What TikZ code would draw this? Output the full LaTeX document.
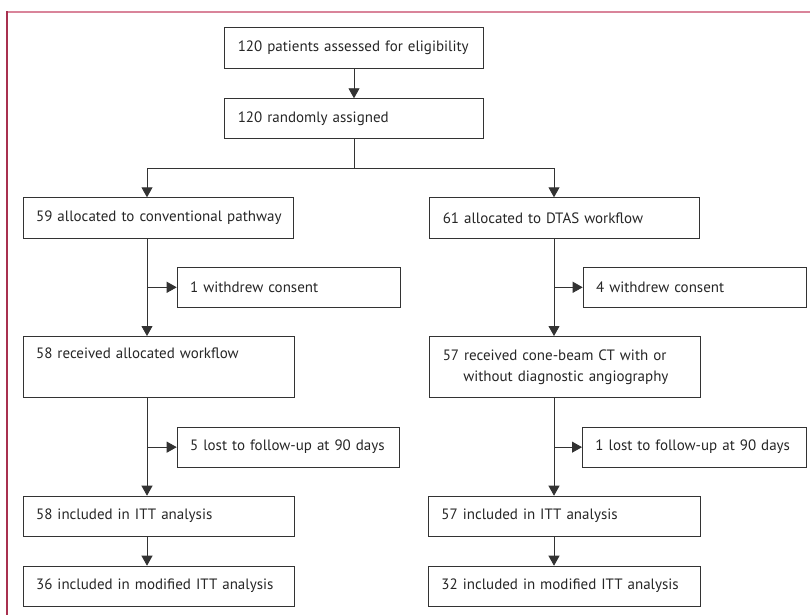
\documentclass[tikz,border=0pt]{standalone}
\usepackage{fontspec}
\setmainfont{PT Sans}[WordSpace=0.8]
\usetikzlibrary{arrows.meta}
\definecolor{toppink}{HTML}{D9849A}
\definecolor{leftred}{HTML}{A8304F}
\definecolor{boxline}{HTML}{333333}
\newcommand\myboxfont{\fontsize{15}{21.5}\selectfont\hyphenpenalty=10000\relax}
\hfuzz=20pt
\begin{document}
\begin{tikzpicture}[x=1pt,y=-1pt,
  box/.style={draw=boxline, line width=0.9pt, anchor=north west, inner xsep=13pt, inner ysep=0pt,
    align=left, font=\myboxfont, text=black!85},
  conn/.style={draw=boxline, line width=0.9pt},
  arr/.style={conn, -{Triangle[width=11pt,length=10pt]}}]
\useasboundingbox (0,0) rectangle (810,615);
\draw[toppink, line width=1.6pt] (7,12) -- (810,12);
\draw[leftred, line width=1.2pt] (7,11.2) -- (7,615);
% column coordinates
\coordinate (xc) at (354,0);
\coordinate (xl) at (147,0);
\coordinate (xr) at (554,0);
% nodes
\node[box, text width=232.7pt, minimum height=41pt] (top) at (224.3,27.3) {120 patients assessed for eligibility};
\node[box, text width=232.7pt, minimum height=40pt] (rand) at (224.3,98.3) {120 randomly assigned};
\node[box, text width=244.6pt, minimum height=40.4pt] (L1) at (22.7,197.3) {\mbox{59 allocated to conventional pathway}};
\node[box, text width=197.3pt, minimum height=40.3pt] (LW) at (176.7,266.7) {1 withdrew consent};
\node[box, text width=245.3pt, minimum height=61.3pt] (L2) at (22.7,336) {58 received allocated workflow\\\strut};
\node[box, text width=196.3pt, minimum height=40pt] (LL) at (176.7,426.7) {5 lost to follow-up at 90 days};
\node[box, text width=245.3pt, minimum height=40pt] (L3) at (22.7,495.7) {58 included in ITT analysis};
\node[box, text width=245.3pt, minimum height=40pt] (L4) at (22.7,565.7) {36 included in modified ITT analysis};
\node[box, text width=244pt, minimum height=40.4pt] (R1) at (429.3,197.3) {61 allocated to DTAS workflow};
\node[box, text width=197.3pt, minimum height=40.3pt] (RW) at (582.7,266.7) {4 withdrew consent};
\node[box, text width=244.7pt, minimum height=61.3pt] (R2) at (429.3,336) {57 received cone-beam CT with or\\\hspace*{20.5pt}without diagnostic angiography};
\node[box, text width=198pt, minimum height=40pt] (RL) at (582,426.7) {1 lost to follow-up at 90 days};
\node[box, text width=246pt, minimum height=40pt] (R3) at (428,495.7) {57 included in ITT analysis};
\node[box, text width=246pt, minimum height=40pt] (R4) at (428,565.7) {32 included in modified ITT analysis};
% connectors
\draw[arr] (top.south -| xc) -- (rand.north -| xc);
\coordinate (split) at (354,168);
\draw[conn] (rand.south -| xc) -- (split);
\draw[arr] (split) -| (L1.north -| xl);
\draw[arr] (split) -| (R1.north -| xr);
\draw[arr] (L1.south -| xl) -- (L2.north -| xl);
\draw[arr] (xl |- LW.west) -- (LW.west);
\draw[arr] (L2.south -| xl) -- (L3.north -| xl);
\draw[arr] (xl |- LL.west) -- (LL.west);
\draw[arr] (L3.south -| xl) -- (L4.north -| xl);
\draw[arr] (R1.south -| xr) -- (R2.north -| xr);
\draw[arr] (xr |- RW.west) -- (RW.west);
\draw[arr] (R2.south -| xr) -- (R3.north -| xr);
\draw[arr] (xr |- RL.west) -- (RL.west);
\draw[arr] (R3.south -| xr) -- (R4.north -| xr);
\end{tikzpicture}
\end{document}
